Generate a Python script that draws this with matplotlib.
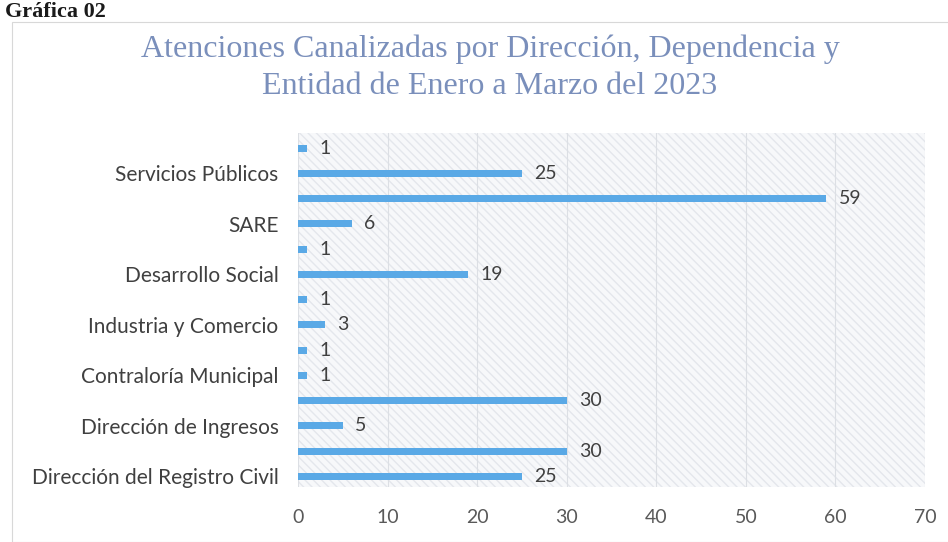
import matplotlib
matplotlib.use("Agg")
import matplotlib.pyplot as plt
from matplotlib.patches import Rectangle
import numpy as np

# bottom -> top, as drawn in the reference
LABELS = [
    "Dirección del Registro Civil", "",
    "Dirección de Ingresos", "",
    "Contraloría Municipal", "",
    "Industria y Comercio", "",
    "Desarrollo Social", "",
    "SARE", "",
    "Servicios Públicos", "",
]
VALUES = [25, 30, 5, 30, 1, 1, 3, 1, 19, 1, 6, 59, 25, 1]
X_TICKS = [0, 10, 20, 30, 40, 50, 60, 70]

TITLE = "Atenciones Canalizadas por Dirección, Dependencia y\nEntidad de Enero a Marzo del 2023"
BAR_COLOR = "#5aa9e6"
TEXT_COLOR = "#404040"
LABEL_FONT = "Lato"

fig = plt.figure(figsize=(9.48, 5.42), dpi=100)
fig.patch.set_facecolor("white")

# outer chart frame
fig.add_artist(Rectangle((12 / 948, 0.0), 1.0, 1 - 22 / 542, transform=fig.transFigure,
                         fill=False, edgecolor="#d8d8d8", linewidth=0.8))

fig.text(0.005, 1 - 17 / 542, "Gráfica 02", family="Liberation Serif", fontweight="bold",
         fontsize=16, color="#1a1a1a", ha="left", va="baseline")
fig.text(0.517, 1 - 68 / 542, TITLE, family="Liberation Serif", fontsize=23,
         color="#7a8fbb", ha="center", va="center", linespacing=1.35)

ax = fig.add_axes([298 / 948, 1 - 487 / 542, 627 / 948, 354 / 542])
ax.set_facecolor("#f7f8fa")
ax.add_patch(Rectangle((0, 0), 1, 1, transform=ax.transAxes, facecolor="none",
                       hatch="\\\\\\\\", edgecolor="#e4e7ec", linewidth=0, zorder=0))

y = np.arange(len(VALUES))
ax.barh(y, VALUES, height=0.28, color=BAR_COLOR, zorder=3)
for yi, v in zip(y, VALUES):
    ax.text(v + 1.4, yi, str(v), fontsize=14, color=TEXT_COLOR, family=LABEL_FONT,
            ha="left", va="center", zorder=4)

ax.set_xlim(0, 70)
ax.set_ylim(-0.42, 13.6)
ax.set_xticks(X_TICKS)
ax.set_xticklabels([str(t) for t in X_TICKS], fontsize=14, color="#595959", family=LABEL_FONT)
ax.set_yticks(y)
ax.set_yticklabels(LABELS, fontsize=15, color=TEXT_COLOR, family=LABEL_FONT)
ax.tick_params(length=0)
ax.tick_params(axis="x", pad=16)
ax.tick_params(axis="y", pad=14)
ax.grid(axis="x", color="#dcdfe4", linewidth=0.8, zorder=1)
ax.set_axisbelow(True)
for s in ax.spines.values():
    s.set_visible(False)

fig.savefig("out.png", dpi=100, facecolor="white")
